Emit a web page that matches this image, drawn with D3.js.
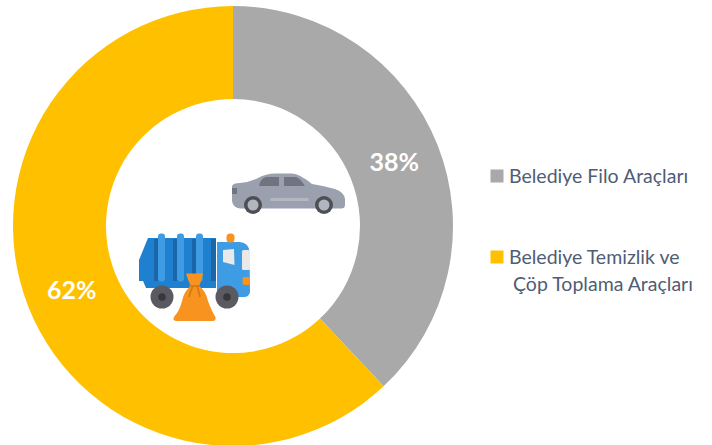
<!DOCTYPE html>
<html>
<head>
<meta charset="utf-8">
<script src="https://cdn.jsdelivr.net/npm/d3@7"></script>
<style>
html,body{margin:0;padding:0;background:#fff;}
svg{display:block;}
text{font-family:Lato,"Open Sans",sans-serif;}
</style>
</head>
<body>
<div id="chart"></div>
<script>
const categories = ["Belediye Filo Araçları", "Belediye Temizlik ve Çöp Toplama Araçları"];
const shares = [38, 62];
const sliceColors = ["#a9a9a9", "#ffc000"];
const sliceLabels = ["38%", "62%"];
const legendLines = [["Belediye Filo Araçları"], ["Belediye Temizlik ve", " Çöp Toplama Araçları"]];

const svg = d3.select("#chart").append("svg").attr("width", 712).attr("height", 445);
const cx = 233, cy = 226, outer = 220, inner = 127;

const pie = d3.pie().sort(null)(shares);
const arc = d3.arc().innerRadius(inner).outerRadius(outer);
const donut = svg.append("g").attr("transform", `translate(${cx},${cy})`);
donut.selectAll("path").data(pie).join("path")
  .attr("d", arc).attr("fill", (d, i) => sliceColors[i]);
donut.selectAll("text").data(pie).join("text")
  .attr("transform", d => { const c = arc.centroid(d); return `translate(${c[0]},${c[1]})`; })
  .attr("text-anchor", "middle").attr("dy", "0.35em")
  .attr("fill", "#fff").attr("font-size", 25).attr("font-weight", 700)
  .text((d, i) => sliceLabels[i]);

// Legend: square swatch followed by one or two lines of text
const legendY = [176, 257];
const legend = svg.append("g");
categories.forEach((c, i) => {
  legend.append("rect").attr("x", 490.5).attr("y", legendY[i] - 6.5).attr("width", 13).attr("height", 13)
    .attr("fill", sliceColors[i]);
  legendLines[i].forEach((line, j) => {
    legend.append("text").attr("x", j ? 513 : 509).attr("y", legendY[i] + 6.5 + j * 27)
      .attr("font-size", 19.5).attr("fill", "#4f5d75").text(line.trim());
  });
});

// Car icon
const car = svg.append("g");
car.append("path").attr("fill", "#9aa0ad")
  .attr("d", "M232,186 Q233,183 240,183 Q250,182 258,178 Q266,173.500 275,173.500 L292,173.500 Q300,174 312,184 Q325,186 335,189 Q344,192 345,199 L345,205 Q345,208.500 341,208.500 L240,208.500 Q233,208 232,201 Z");
car.append("path").attr("fill", "#6f7480")
  .attr("d", "M259,186 Q260,179 266,177 L279,177 L279,186 Z M284,177 L296,177 Q300,178 305,186 L284,186 Z");
car.append("rect").attr("x", 232).attr("y", 188).attr("width", 5).attr("height", 6).attr("fill", "#6f7480");
car.append("rect").attr("x", 270).attr("y", 198).attr("width", 39).attr("height", 3).attr("rx", 1.500).attr("fill", "#b2b7c2");
[253, 324].forEach(x => {
  car.append("circle").attr("cx", x).attr("cy", 205).attr("r", 9).attr("fill", "#4e4f55");
  car.append("circle").attr("cx", x).attr("cy", 205).attr("r", 5.500).attr("fill", "#b0b5c0");
});

// Garbage truck icon
const truck = svg.append("g");
truck.append("path").attr("fill", "#1f80cf")
  .attr("d", "M148,238 L216,238 L216,288 L146,288 L143,281 L139,281 L139,260 Z");
truck.append("g").attr("fill", "#1a66a8").selectAll("rect").data([154, 173, 192, 211]).join("rect")
  .attr("x", d => d).attr("y", 239).attr("width", 5).attr("height", 42);
truck.append("g").attr("fill", "#3d9ce3").selectAll("rect").data([158, 177, 196]).join("rect")
  .attr("x", d => d).attr("y", 233.500).attr("width", 7).attr("height", 48).attr("rx", 3);
truck.append("path").attr("fill", "#3d9ce3")
  .attr("d", "M217,242 L240,242 Q249,243 249.500,252 L250,292 Q249,297 244,297 L217,297 Z");
truck.append("path").attr("fill", "#e9e9ea").attr("d", "M223,250 L234,249 L234.500,265 L223,262 Z");
truck.append("rect").attr("x", 242).attr("y", 250).attr("width", 8).attr("height", 20).attr("rx", 1.500).attr("fill", "#e9e9ea");
truck.append("rect").attr("x", 242.500).attr("y", 277).attr("width", 7.500).attr("height", 8).attr("rx", 2).attr("fill", "#f7931e");
truck.append("rect").attr("x", 226.500).attr("y", 233.500).attr("width", 8).attr("height", 9).attr("rx", 3.500).attr("fill", "#f7931e");
[162, 227].forEach(x => {
  truck.append("circle").attr("cx", x).attr("cy", 297).attr("r", 11.500).attr("fill", "#5a5a60");
  truck.append("circle").attr("cx", x).attr("cy", 297).attr("r", 3.800).attr("fill", "#37373c");
});

// Refuse sack in front of the truck
const sack = svg.append("g");
sack.append("path").attr("fill", "#f7931e")
  .attr("d", "M186,273.500 L203,273.500 Q202,281 199,286 Q206,291 208,301 Q212,312 215.500,317 Q216,321 213,321 L177,321 Q172,321 174,317 Q180,310 182,301 Q184,291 191,286 Q188,281 186,273.500 Z");
sack.append("path").attr("fill", "none").attr("stroke", "#d97a10").attr("stroke-width", 1.800)
  .attr("d", "M189,286 L200,286 M193,286 Q190,292 189,297 M197,286 Q199,292 200,297");
</script>
</body>
</html>
